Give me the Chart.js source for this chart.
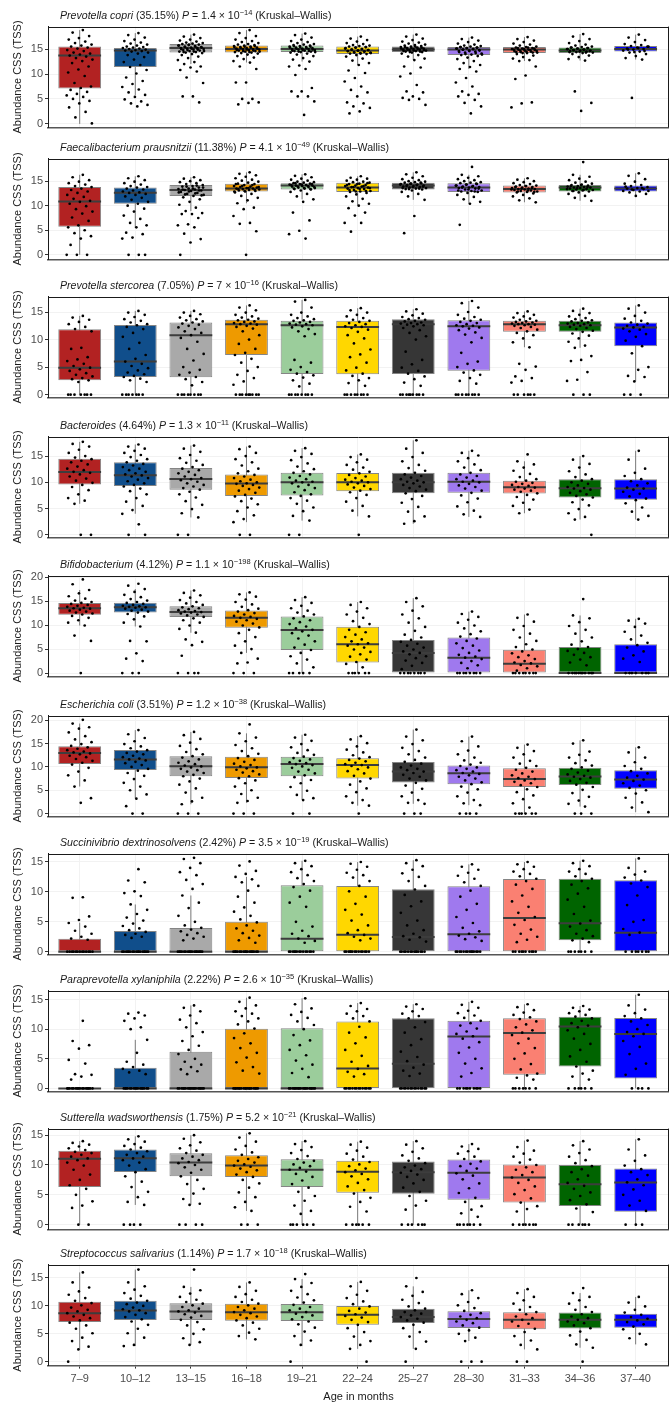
<!DOCTYPE html>
<html>
<head>
<meta charset="utf-8">
<script src="https://cdn.jsdelivr.net/npm/chart.js@4.4.1/dist/chart.umd.min.js"></script>
<style>
  html, body { margin: 0; padding: 0; background: #fff; }
  body { width: 669px; height: 1402px; overflow: hidden; position: relative;
         font-family: 'Liberation Sans', Arial, sans-serif; }
  .panel { position: absolute; left: 0; width: 673px; }
  .ptitle { position: absolute; left: 60px; font-size: 10.6px; line-height: 14px;
            color: #1a1a1a; white-space: nowrap; }
  .ptitle sup { font-size: 7.5px; line-height: 0; vertical-align: 4px; }
</style>
</head>
<body>
<script>
// ---------- categories and labels ----------
const ageGroups = ['7–9', '10–12', '13–15', '16–18', '19–21', '22–24', '25–27', '28–30', '31–33', '34–36', '37–40'];
const taxa = ['Prevotella copri', 'Faecalibacterium prausnitzii', 'Prevotella stercorea', 'Bacteroides',
  'Bifidobacterium', 'Escherichia coli', 'Succinivibrio dextrinosolvens', 'Paraprevotella xylaniphila',
  'Sutterella wadsworthensis', 'Streptococcus salivarius'];
const shares = ['35.15%', '11.38%', '7.05%', '4.64%', '4.12%', '3.51%', '2.42%', '2.22%', '1.75%', '1.14%'];
const pMantissa = ['1.4', '4.1', '7', '1.3', '1.1', '1.2', '3.5', '2.6', '5.2', '1.7'];
const pExponent = ['−14', '−49', '−16', '−11', '−198', '−38', '−19', '−35', '−21', '−18'];
const groupColors = ['#B22222', '#104E8B', '#A9A9A9', '#EE9A00', '#9BCD9B', '#FFD700',
  '#363636', '#9F79EE', '#FA8072', '#006400', '#0000FF'];

// y-axis limits and tick values per taxon
const yLimits = [[-0.7, 19.5], [-0.94, 19.6], [-0.5, 17.8], [-0.5, 18.7], [-0.7, 20.3],
  [-0.6, 21.0], [-0.45, 16.4], [-0.5, 16.5], [-0.8, 16.1], [-0.7, 17.4]];
const yTickValues = [[0, 5, 10, 15], [0, 5, 10, 15], [0, 5, 10, 15], [0, 5, 10, 15], [0, 5, 10, 15, 20],
  [0, 5, 10, 15, 20], [0, 5, 10, 15], [0, 5, 10, 15], [0, 5, 10, 15], [0, 5, 10, 15]];

// ---------- box summaries: [lower whisker, Q1, median, Q3, upper whisker] ----------
const copriBox = [[0,7.1,13.7,15.5,18.8],[5.8,11.4,14.7,15.2,18.2],[12.0,14.3,15.2,16.0,17.9],[12.3,14.3,15.0,15.7,18.8],
  [12.5,14.4,15.0,15.7,18.1],[11.8,14.0,14.7,15.5,17.5],[12.8,14.4,14.9,15.5,17.9],[11.0,13.8,14.9,15.4,17.3],
  [12.6,14.2,14.9,15.4,17.4],[12.7,14.2,14.7,15.3,18.0],[12.9,14.5,15.0,15.6,17.9]];
const faecaliBox = [[0,5.7,10.85,13.8,16.3],[5.5,10.4,12.65,13.7,16.0],[8.9,12.0,13.2,14.2,15.8],[10.5,12.9,13.5,14.5,16.8],
  [11.3,13.3,14.1,14.6,16.4],[10.0,12.8,13.7,14.7,16.0],[11.2,13.3,14.1,14.7,16.8],[10.4,12.8,13.7,14.6,16.3],
  [10.7,12.7,13.4,14.1,15.6],[11.0,12.9,13.7,14.2,16.3],[12.0,12.9,13.5,14.1,16.6]];
const stercoreaBox = [[0,2.6,4.9,11.86,14.3],[0,3.2,6.0,12.64,15.2],[0,3.15,10.8,13.1,15.2],[0,7.2,12.8,13.6,16.2],
  [0,3.75,12.6,13.4,17.2],[0,3.7,12.3,13.4,15.7],[0,3.75,12.8,13.7,15.5],[0,4.35,12.4,13.5,17.0],
  [8.6,11.4,12.8,13.4,15.1],[8.5,11.4,12.6,13.4,15.6],[2.4,8.8,12.2,13.1,16.2]];
const bacteroidesBox = [[5.9,9.56,11.96,14.5,17.7],[4.0,9.3,11.33,13.8,17.2],[3.3,8.6,10.63,12.7,17.0],[2.4,7.4,9.75,11.46,16.8],
  [2.7,7.47,10.0,11.8,16.5],[3.5,8.3,10.0,11.77,15.3],[2.1,7.9,10.0,11.8,18.0],[3.4,8.0,10.1,11.8,16.0],
  [4.1,7.85,9.05,10.3,14.0],[2.9,7.1,8.86,10.57,15.0],[2.9,6.65,8.8,10.6,16.0]];
const bifidoBox = [[9.9,12.15,13.5,14.6,17.3],[9.7,12.6,13.7,14.65,17.5],[8.4,11.7,12.7,13.9,17.2],[4.2,9.45,11.5,13.05,16.8],
  [0,4.8,8.96,11.8,15.8],[0,2.2,6.0,9.65,14.8],[0,0,4.2,6.9,15.6],[0,0,3.2,7.4,12.8],
  [0,0,1.95,4.86,12.2],[0,0,0,5.4,12.0],[0,0,0,6.0,11.3]];
const coliBox = [[5.8,10.64,13.0,14.43,19.3],[3.2,9.36,11.57,13.64,17.9],[2.0,8.0,10.14,12.3,17.5],[2.3,7.64,9.93,12.2,17.2],
  [2.9,8.0,10.64,12.2,16.9],[1.7,7.5,10.43,11.86,16.6],[2.1,6.64,9.0,11.07,18.0],[1.8,6.3,8.64,10.3,16.5],
  [0,5.7,7.43,9.7,14.8],[1.5,6.14,7.93,9.8,15.7],[0.3,5.3,7.3,9.3,14.2]];
const succiniBox = [[0,0,0,2.17,4.85],[0,0,0,3.46,7.9],[0,0,0,3.96,9.4],[0,0,0,5.0,12.5],
  [0,0,2.17,11.1,15.2],[0,0,2.84,11.0,15.0],[0,0,2.45,10.43,15.3],[0,0,2.9,10.93,14.6],
  [0,0,5.63,12.16,15.0],[0,1.9,4.74,12.2,15.2],[0,0,3.18,11.93,15.6]];
const paraBox = [[0,0,0,0,0],[0,0,0,3.48,8.2],[0,0,0,6.18,14.0],[0,0,0,10.06,15.3],
  [0,0,0,10.17,15.2],[0,0,3.37,11.3,14.4],[0,0,4.16,11.85,14.2],[0,0,8.76,11.4,14.6],
  [0,2.3,9.33,11.85,14.2],[0,3.7,10.45,12.08,13.9],[0,1.68,9.2,11.9,15.8]];
const sutterellaBox = [[0,6.29,11.03,12.4,14.0],[3.3,8.83,11.14,12.58,14.8],[3.3,8.1,10.42,11.97,15.0],[2.3,8.0,9.93,11.64,15.3],
  [0,6.29,9.2,10.98,14.0],[0,5.35,8.88,10.7,13.9],[0,5.18,8.77,10.6,14.0],[0,4.19,8.71,10.92,13.5],
  [0,3.7,7.89,10.1,14.1],[0,3.14,6.78,9.98,14.0],[0,2.15,7.06,9.43,14.3]];
const streptoBox = [[2.1,7.12,8.7,10.76,16.0],[2.8,7.47,9.18,10.94,16.5],[3.0,7.47,9.0,10.47,13.4],[4.0,7.35,8.88,10.4,14.2],
  [2.8,7.3,8.88,10.35,14.8],[2.3,6.6,8.4,10.0,14.3],[2.3,6.94,8.0,9.47,13.5],[3.7,6.06,7.65,9.06,12.8],
  [2.2,5.82,7.5,8.88,13.0],[2.5,5.94,7.5,8.82,12.3],[3.1,6.1,7.5,8.6,11.6]];

// ---------- per-sample abundances, one list per age group ----------
const copriPts = [
  [18.8,18.3,17.6,17.2,16.9,16.5,16.2,15.9,15.7,15.5,15.3,15.1,14.8,14.6,14.3,14.1,13.9,13.7,13.5,13.2,12.9,12.6,12.2,11.5,10.9,10.3,9.6,8.2,7.5,7.2,6.8,6.4,6.0,5.7,5.4,5.0,4.6,4.1,3.3,2.4,1.3,0.1],
  [18.2,17.8,17.3,16.9,16.6,16.3,16.1,15.9,15.7,15.5,15.4,15.3,15.2,15.1,15.0,14.9,14.8,14.7,14.6,14.5,14.3,14.1,13.8,13.4,12.9,12.4,11.8,11.4,10.8,10.1,9.3,8.6,8.0,7.4,6.9,6.3,5.8,5.4,4.9,4.5,4.1,3.8,3.5],
  [17.9,17.5,17.2,16.9,16.7,16.5,16.3,16.2,16.1,16.0,15.9,15.8,15.7,15.6,15.5,15.4,15.3,15.2,15.2,15.1,15.0,14.9,14.8,14.7,14.6,14.5,14.4,14.3,14.2,14.0,13.8,13.5,13.2,12.8,12.4,12.0,11.5,11.3,10.8,10.5,9.3,8.2,5.5,5.5,4.3,15.9,15.7,15.5,15.4,15.3,15.1,15.0,14.9,14.8,14.6,14.5,14.4],
  [18.8,18.2,17.6,17.2,16.9,16.6,16.4,16.2,16.0,15.9,15.8,15.7,15.6,15.5,15.4,15.3,15.2,15.1,15.0,15.0,14.9,14.8,14.7,14.6,14.5,14.4,14.3,14.2,14.1,13.9,13.6,13.3,13.0,12.6,12.3,11.5,11.0,8.3,8.3,5.0,5.0,4.3,4.2,3.9,15.6,15.5,15.4,15.3,15.2,15.1,14.9,14.8,14.7,14.6,14.5,14.4],
  [18.1,17.8,17.3,16.9,16.6,16.4,16.2,16.0,15.9,15.8,15.7,15.6,15.5,15.4,15.3,15.2,15.1,15.0,15.0,14.9,14.8,14.7,14.6,14.5,14.4,14.3,14.1,13.9,13.6,13.2,12.9,12.5,11.7,11.5,11.0,9.8,7.2,6.5,6.5,5.5,5.5,4.5,1.8,15.6,15.5,15.4,15.3,15.2,15.1,14.9,14.8,14.7,14.6,14.5,14.4],
  [17.5,17.1,16.8,16.5,16.2,16.0,15.8,15.7,15.6,15.5,15.4,15.3,15.1,15.0,14.9,14.8,14.7,14.6,14.5,14.4,14.3,14.2,14.1,14.0,13.8,13.5,13.1,12.7,12.2,11.8,10.7,10.2,9.2,8.5,7.5,6.8,6.3,5.5,4.3,4.1,3.5,3.2,2.5,2.1,15.4,15.3,15.2,15.0,14.9,14.8,14.7,14.6,14.5,14.3,14.2,14.1],
  [17.9,17.5,17.1,16.8,16.5,16.3,16.1,15.9,15.8,15.7,15.6,15.5,15.4,15.3,15.2,15.1,15.0,14.9,14.9,14.8,14.7,14.6,14.5,14.4,14.3,14.1,13.8,13.5,13.1,12.8,11.5,11.3,10.1,9.5,7.8,6.5,6.3,5.5,5.2,5.0,4.8,3.8,15.5,15.4,15.3,15.2,15.1,15.0,14.9,14.8,14.7,14.6,14.5,14.4],
  [17.3,17.0,16.7,16.4,16.1,15.9,15.7,15.6,15.5,15.4,15.3,15.2,15.1,15.0,14.9,14.8,14.7,14.6,14.5,14.3,14.1,13.9,13.8,13.6,13.3,13.0,12.6,12.2,11.8,11.4,11.0,10.5,9.2,8.3,7.5,6.5,6.0,5.8,5.5,4.8,4.2,3.5,2.1,15.4,15.3,15.2,15.1,15.0,14.9,14.7,14.6,14.4,14.2,14.0,13.9],
  [17.4,17.0,16.7,16.4,16.1,15.9,15.7,15.5,15.4,15.3,15.2,15.1,15.0,14.9,14.9,14.8,14.7,14.6,14.5,14.4,14.3,14.2,14.0,13.7,13.4,13.1,12.8,12.6,11.5,9.7,9.0,4.3,4.1,3.3,15.3,15.2,15.1,15.0,14.9,14.8,14.7,14.6,14.5,14.4,14.3,14.2],
  [18.0,17.5,17.0,16.6,16.2,15.9,15.7,15.5,15.4,15.3,15.2,15.1,15.0,14.9,14.8,14.7,14.7,14.6,14.5,14.4,14.3,14.2,14.0,13.7,13.4,13.0,12.7,6.5,4.2,2.6,15.3,15.2,15.1,15.0,14.9,14.8,14.6,14.5,14.4,14.3],
  [17.9,17.3,16.8,16.4,16.0,15.8,15.6,15.5,15.3,15.1,15.0,14.9,14.7,14.5,14.3,14.0,13.6,13.2,12.9,5.2,15.5,15.2,14.9,14.6,14.4]];
const faecaliPts = [
  [16.3,15.8,15.2,14.9,14.6,14.3,14.0,13.8,13.5,13.2,12.9,12.6,12.2,11.8,11.4,11.0,10.8,10.4,9.9,9.3,8.8,8.4,7.6,6.9,6.0,5.6,5.0,4.4,3.8,3.3,2.0,0,0,0],
  [16.0,15.6,15.2,14.9,14.6,14.3,14.0,13.8,13.7,13.5,13.3,13.1,12.9,12.7,12.6,12.4,12.2,11.9,11.6,11.2,10.8,10.4,10.0,9.4,8.8,8.0,7.3,6.5,6.0,5.6,4.5,4.2,3.5,3.3,0,0,0],
  [15.8,15.5,15.2,15.0,14.8,14.6,14.4,14.2,14.0,13.9,13.7,13.5,13.4,13.3,13.2,13.1,13.0,12.8,12.6,12.4,12.2,12.0,11.7,11.3,10.8,10.2,9.6,8.9,8.5,8.3,8.3,7.5,6.2,6.0,5.6,4.3,3.2,2.5,0,14.1,13.9,13.7,13.5,13.3,13.1,12.9,12.7,12.5,12.3,12.1],
  [16.8,16.5,16.2,15.9,15.6,15.3,15.1,14.9,14.7,14.5,14.4,14.2,14.0,13.9,13.8,13.7,13.6,13.5,13.5,13.4,13.3,13.2,13.1,13.0,12.9,12.7,12.4,12.0,11.6,11.1,10.5,9.6,9.3,7.9,6.5,6.3,4.8,0,14.4,14.2,14.0,13.8,13.6,13.4,13.2,13.0,12.9],
  [16.4,16.1,15.8,15.5,15.3,15.1,14.9,14.8,14.7,14.6,14.5,14.4,14.3,14.2,14.1,14.1,14.0,13.9,13.8,13.7,13.6,13.5,13.4,13.3,13.1,12.8,12.4,11.9,11.3,10.8,8.6,7.0,4.9,4.2,3.3,14.6,14.4,14.3,14.2,14.0,13.9,13.8,13.6,13.5,13.4],
  [16.0,15.7,15.5,15.3,15.1,14.9,14.8,14.7,14.5,14.4,14.2,14.1,14.0,13.9,13.8,13.7,13.6,13.5,13.4,13.2,13.0,12.9,12.8,12.6,12.3,11.9,11.4,10.9,10.4,10.0,9.5,8.6,8.0,6.5,6.5,4.7,14.6,14.4,14.2,14.0,13.8,13.6,13.4,13.2,13.0,12.9],
  [16.8,16.4,16.0,15.7,15.4,15.2,15.0,14.9,14.8,14.7,14.6,14.5,14.4,14.3,14.2,14.1,14.0,13.9,13.8,13.7,13.6,13.5,13.4,13.3,13.1,12.8,12.4,11.9,11.2,7.9,4.4,14.7,14.5,14.3,14.2,14.0,13.9,13.8,13.6,13.5,13.4],
  [17.9,16.3,16.0,15.7,15.4,15.2,15.0,14.8,14.7,14.6,14.4,14.3,14.1,14.0,13.9,13.8,13.7,13.6,13.5,13.3,13.1,13.0,12.9,12.8,12.6,12.2,11.8,11.3,10.8,10.4,6.1,14.5,14.3,14.1,13.9,13.7,13.5,13.3,13.1,12.9],
  [15.6,15.3,15.0,14.8,14.6,14.4,14.2,14.1,14.0,13.9,13.8,13.7,13.6,13.5,13.4,13.4,13.3,13.2,13.1,13.0,12.9,12.8,12.7,12.5,12.2,11.9,11.5,11.1,10.7,14.0,13.8,13.6,13.5,13.3,13.1,12.9,12.8],
  [18.9,16.3,15.9,15.5,15.2,14.9,14.7,14.5,14.3,14.2,14.1,14.0,13.9,13.8,13.7,13.7,13.6,13.5,13.4,13.3,13.2,13.1,13.0,12.9,12.7,12.4,12.0,11.6,11.0,14.2,14.0,13.8,13.6,13.4,13.2,13.0],
  [16.6,16.1,15.4,14.9,14.5,14.2,14.0,13.8,13.6,13.5,13.4,13.2,13.0,12.9,12.7,12.4,12.0,13.9,13.6,13.3,13.0]];
const stercoreaPts = [
  [14.3,14.0,13.6,13.2,12.8,12.3,11.9,11.5,8.5,8.3,6.8,6.4,6.1,5.6,5.2,4.9,4.6,4.3,3.9,3.6,3.3,3.0,2.8,2.6,2.3,0,0,0,0,0,0,0],
  [15.2,14.9,14.5,14.1,13.7,13.4,13.1,12.8,12.6,12.3,11.9,11.2,10.5,9.4,8.3,7.2,6.5,6.0,5.6,5.2,4.8,4.4,4.0,3.7,3.4,3.2,2.9,2.6,2.3,0,0,0,0,0,0,0],
  [15.2,14.9,14.6,14.3,14.0,13.7,13.5,13.3,13.1,12.9,12.7,12.5,12.2,11.9,11.5,11.2,10.8,10.3,9.6,8.3,7.4,6.2,5.0,4.5,4.0,3.6,3.2,2.8,2.3,1.7,0,0,0,0,0,0,0,0],
  [16.2,15.8,15.3,14.9,14.5,14.2,14.0,13.8,13.6,13.5,13.3,13.2,13.0,12.9,12.8,12.7,12.5,12.3,12.0,11.5,10.8,10.0,9.2,8.3,7.6,7.2,6.5,5.8,5.0,4.3,3.6,3.0,2.4,1.8,0,0,0,0,0,0,0,0,0],
  [17.2,16.9,15.8,14.9,14.5,14.2,13.9,13.7,13.5,13.4,13.2,13.1,12.9,12.8,12.7,12.6,12.4,12.2,11.9,11.5,11.0,10.6,6.3,5.8,5.0,4.5,4.1,3.8,3.5,3.1,2.6,2.0,1.5,0,0,0,0,0,0,0,0],
  [15.7,15.3,14.9,14.5,14.2,13.9,13.6,13.4,13.2,13.0,12.8,12.6,12.4,12.3,12.1,11.8,11.4,10.8,10.2,9.3,8.2,7.3,6.8,5.8,4.9,4.4,3.8,3.4,3.0,2.6,2.1,1.6,0,0,0,0,0,0,0,0],
  [15.5,15.1,14.7,14.4,14.1,13.9,13.7,13.6,13.4,13.3,13.1,13.0,12.9,12.8,12.7,12.6,12.4,12.1,11.7,11.2,10.6,10.0,7.8,6.3,5.5,4.9,4.3,3.8,3.3,2.8,2.2,1.6,0,0,0,0,0,0,0,0,0],
  [17.0,16.6,15.8,15.0,14.5,14.1,13.8,13.6,13.4,13.2,13.0,12.8,12.6,12.5,12.4,12.2,12.0,11.7,11.3,10.9,10.3,9.5,7.6,6.0,5.6,5.0,4.4,4.0,3.6,3.0,2.5,2.0,0,0,0,0,0,0,0,0],
  [15.1,14.8,14.5,14.2,14.0,13.8,13.6,13.4,13.3,13.2,13.1,13.0,12.9,12.8,12.8,12.7,12.6,12.5,12.3,12.1,11.8,11.5,11.2,10.8,10.2,9.5,8.6,5.6,5.1,4.5,3.3,3.0,2.5,2.2,0,0,0,0,0,0],
  [15.6,15.2,14.8,14.5,14.2,13.9,13.7,13.5,13.4,13.3,13.1,13.0,12.9,12.8,12.7,12.6,12.5,12.3,12.1,11.9,11.6,11.4,11.1,10.7,10.2,9.6,8.9,8.5,7.0,6.3,6.1,4.1,2.7,2.5,0,0,0],
  [16.2,15.6,14.9,14.3,13.8,13.4,13.1,12.9,12.7,12.5,12.3,12.2,12.0,11.8,11.5,11.0,10.5,9.8,8.8,7.5,5.0,4.5,3.4,3.2,2.4,0,0,0]];
const bacteroidesPts = [
  [17.7,17.3,16.8,16.2,15.6,15.0,14.7,14.4,14.1,13.8,13.4,13.0,12.6,12.3,12.0,11.8,11.5,11.1,10.7,10.3,9.9,9.5,9.1,8.5,7.7,7.0,6.5,5.9,0,0],
  [17.2,16.8,16.4,16.0,15.6,15.2,14.8,14.4,14.1,13.8,13.5,13.2,12.9,12.6,12.3,12.0,11.7,11.5,11.3,11.1,10.8,10.5,10.2,9.8,9.5,9.2,8.8,8.3,7.7,7.0,6.3,5.5,4.7,4.0,2.0,0,0],
  [17.0,16.4,15.8,15.2,14.6,14.1,13.7,13.3,12.9,12.6,12.3,12.0,11.7,11.4,11.1,10.8,10.6,10.4,10.1,9.8,9.5,9.2,8.9,8.6,8.2,7.7,7.1,6.4,5.7,4.9,4.1,3.3,0,0],
  [16.8,16.3,15.6,15.0,14.4,13.8,13.2,12.6,12.1,11.7,11.4,11.1,10.8,10.5,10.2,10.0,9.8,9.7,9.5,9.3,9.0,8.7,8.4,8.0,7.6,7.3,6.9,6.4,5.8,5.2,4.5,3.7,3.0,2.4,0,0],
  [16.5,16.0,15.4,14.8,14.2,13.6,13.0,12.5,12.1,11.8,11.5,11.2,10.9,10.6,10.3,10.1,10.0,9.8,9.5,9.2,8.9,8.5,8.1,7.7,7.4,7.0,6.5,5.9,5.2,4.5,3.6,2.7,0,0],
  [15.3,14.8,14.3,13.8,13.3,12.8,12.4,12.0,11.7,11.4,11.1,10.8,10.5,10.3,10.1,10.0,9.8,9.6,9.3,9.0,8.7,8.4,8.1,7.6,7.0,6.3,5.5,4.6,3.5,0],
  [18.0,16.4,15.6,14.8,14.0,13.3,12.7,12.2,11.8,11.5,11.2,10.9,10.6,10.3,10.1,10.0,9.8,9.5,9.2,8.9,8.6,8.3,7.9,7.4,6.8,6.1,5.3,4.4,3.5,2.6,2.1],
  [16.0,15.6,15.1,14.6,14.0,13.4,12.8,12.3,11.8,11.5,11.2,10.9,10.6,10.3,10.1,10.0,9.7,9.4,9.1,8.8,8.4,8.0,7.5,6.9,6.2,5.4,4.6,3.9,3.4],
  [15.3,14.0,13.4,12.8,12.2,11.6,11.0,10.6,10.3,10.1,9.9,9.7,9.5,9.3,9.1,9.0,8.8,8.6,8.4,8.2,7.9,7.6,7.2,6.7,6.1,5.5,4.8,4.1],
  [15.0,14.3,13.5,12.8,12.1,11.5,11.0,10.6,10.3,10.0,9.7,9.4,9.1,8.9,8.8,8.6,8.3,8.0,7.7,7.4,7.1,6.7,6.2,5.6,4.9,4.1,3.4,2.9,0],
  [16.0,14.3,12.6,11.8,11.2,10.6,10.2,9.8,9.4,9.0,8.8,8.6,8.2,7.8,7.3,6.9,6.6,6.0,5.2,4.4,3.6,2.9]];
const bifidoPts = [
  [19.5,18.5,17.3,16.6,16.0,15.5,15.1,14.8,14.6,14.4,14.2,14.0,13.8,13.6,13.5,13.4,13.2,13.0,12.8,12.6,12.4,12.2,11.9,11.5,11.0,10.5,9.9,7.8,6.7,0],
  [18.6,18.2,17.5,16.9,16.3,15.8,15.4,15.1,14.8,14.6,14.4,14.2,14.0,13.9,13.8,13.7,13.6,13.4,13.2,13.0,12.8,12.6,12.3,11.8,11.2,10.5,9.7,6.7,6.6,4.1,3.0,2.5,0,0,0],
  [17.2,16.7,16.2,15.7,15.2,14.8,14.5,14.2,13.9,13.7,13.5,13.3,13.1,12.9,12.8,12.7,12.6,12.4,12.2,12.0,11.7,11.4,11.0,10.5,9.9,9.2,8.4,7.0,6.5,5.8,3.6,0,0,0,0],
  [16.8,16.4,15.9,15.3,14.8,14.3,13.8,13.4,13.1,12.8,12.5,12.2,11.9,11.7,11.5,11.3,11.0,10.7,10.3,9.9,9.5,9.0,8.3,7.5,6.6,5.7,5.0,4.2,3.0,2.2,2.0,0,0,0],
  [15.8,15.2,14.6,14.0,13.5,13.0,12.6,12.2,11.8,11.4,11.0,10.6,10.2,9.7,9.3,9.0,8.7,8.3,7.8,7.2,6.6,5.9,5.3,4.8,4.2,3.5,2.8,2.0,1.2,0,0,0,0,0],
  [14.8,14.2,13.5,12.8,12.2,11.5,10.8,10.2,9.6,9.0,8.5,8.0,7.5,7.0,6.6,6.2,6.0,5.7,5.3,4.9,4.4,3.9,3.4,2.8,2.3,1.9,1.2,0,0,0,0,0,0],
  [15.6,14.8,13.9,13.0,12.2,11.4,10.5,9.6,8.8,8.0,7.4,6.9,6.5,6.1,5.7,5.3,4.9,4.5,4.2,3.9,3.5,3.1,2.6,2.1,1.5,0.8,0,0,0,0,0,0,0,0],
  [12.8,12.3,11.7,11.1,10.5,9.9,9.3,8.7,8.1,7.6,7.2,6.7,6.2,5.7,5.2,4.7,4.2,3.8,3.4,3.2,2.9,2.5,2.1,1.6,1.0,0,0,0,0,0,0,0,0],
  [12.2,11.5,10.7,9.8,9.0,8.2,7.4,6.7,6.0,5.4,4.9,4.5,4.1,3.7,3.3,2.9,2.5,2.2,2.0,1.7,1.4,1.0,0.5,0,0,0,0,0,0,0,0],
  [15.4,12.0,11.4,10.6,9.8,9.0,8.2,7.4,6.6,5.9,5.4,5.0,4.6,4.2,3.8,3.3,2.8,2.2,1.6,0,0,0,0,0,0,0,0,0,0,0],
  [11.3,10.9,10.3,9.6,8.6,7.8,7.0,6.3,5.8,5.3,4.5,3.7,3.0,2.3,0,0,0,0,0,0,0]];
const coliPts = [
  [20.1,19.3,18.5,18.2,17.4,16.6,15.9,15.3,14.9,14.5,14.2,13.9,13.6,13.3,13.1,12.9,12.7,12.4,12.1,11.7,11.3,10.9,10.5,9.8,9.0,8.2,7.1,5.8,3.3,2.3],
  [17.9,17.0,16.2,15.5,14.9,14.4,14.0,13.6,13.3,13.0,12.7,12.4,12.1,11.8,11.6,11.4,11.1,10.8,10.4,10.0,9.6,9.2,8.7,8.1,7.4,6.6,5.8,5.0,4.1,3.2,1.6,0,0],
  [17.5,16.8,16.0,15.2,14.5,13.8,13.2,12.7,12.3,12.0,11.6,11.2,10.9,10.6,10.3,10.1,9.9,9.6,9.3,9.0,8.7,8.3,8.0,7.5,6.9,6.2,5.4,4.5,3.4,2.6,2.0,0,0,0],
  [19.1,17.2,16.3,15.5,14.7,14.0,13.4,12.8,12.3,11.9,11.5,11.1,10.7,10.4,10.1,9.9,9.7,9.4,9.1,8.8,8.4,8.0,7.6,7.1,6.5,5.8,5.0,4.2,3.4,2.7,2.3,0,0,0],
  [16.9,16.3,15.6,14.9,14.2,13.6,13.0,12.6,12.2,11.9,11.6,11.3,11.0,10.8,10.6,10.4,10.1,9.8,9.4,9.0,8.6,8.2,7.8,7.2,6.5,5.7,4.9,4.0,3.3,2.9,0,0],
  [16.6,15.9,15.1,14.4,13.7,13.1,12.5,12.1,11.8,11.5,11.2,10.9,10.6,10.4,10.2,9.9,9.5,9.1,8.6,8.1,7.5,6.9,6.2,5.4,4.6,3.7,2.9,2.3,1.7,0],
  [18.0,16.5,15.7,14.9,14.1,13.4,12.7,12.0,11.5,11.1,10.7,10.3,9.9,9.6,9.3,9.0,8.7,8.3,7.9,7.5,7.1,6.6,6.0,5.3,4.5,3.7,2.9,2.3,2.1,0,0,0],
  [16.5,15.5,14.4,13.5,12.7,12.0,11.4,10.9,10.5,10.2,9.9,9.6,9.3,9.0,8.7,8.5,8.2,7.9,7.5,7.1,6.7,6.3,5.8,5.2,4.5,3.7,2.9,2.2,1.8,0,0,0,0],
  [14.8,14.1,13.4,12.7,12.0,11.3,10.7,10.2,9.8,9.4,9.0,8.6,8.2,7.9,7.6,7.4,7.1,6.8,6.5,6.1,5.7,5.2,4.6,3.9,3.1,2.2,1.3,0,0,0,0,0,0],
  [15.7,15.0,13.3,12.6,12.0,11.4,10.8,10.3,9.9,9.6,9.2,8.8,8.4,8.1,7.9,7.7,7.4,7.0,6.6,6.2,5.7,5.1,4.4,3.6,2.8,2.1,1.5,0,0,0],
  [14.2,13.1,12.0,11.0,10.2,9.6,9.1,8.6,8.1,7.7,7.3,7.0,6.5,6.0,5.5,5.0,4.3,3.4,2.4,1.3,0.3]];
const succiniPts = [
  [9.1,9.0,5.9,5.3,4.8,4.2,3.5,3.0,2.5,2.2,2.0,0,0,0,0,0,0,0,0,0,0,0,0,0],
  [13.8,11.9,11.6,10.1,9.8,9.3,7.9,7.0,6.3,5.7,5.2,4.7,4.3,3.9,3.6,3.3,3.0,2.8,2.5,2.3,0,0,0,0,0,0,0,0,0,0,0,0,0,0,0,0,0],
  [15.7,15.5,14.8,14.0,13.3,12.8,12.0,11.3,10.5,9.4,8.2,7.3,6.0,5.0,4.4,4.0,3.7,3.4,3.1,2.8,2.5,2.2,1.9,0,0,0,0,0,0,0,0,0,0,0,0,0,0,0,0,0],
  [15.1,14.4,13.5,13.0,12.5,12.1,11.6,11.0,10.2,9.2,8.2,7.4,6.7,6.0,5.4,4.9,4.4,3.9,3.5,3.1,2.7,2.3,1.9,1.5,0,0,0,0,0,0,0,0,0,0,0,0,0,0,0,0],
  [15.2,14.8,14.3,13.8,13.3,12.8,12.3,11.8,11.3,10.8,10.2,9.2,8.2,7.5,5.0,4.2,3.5,3.0,2.6,2.2,1.8,1.5,0,0,0,0,0,0,0,0,0,0,0,0,0,0],
  [15.0,14.7,14.2,13.7,13.2,12.8,12.4,11.8,11.0,10.1,9.2,8.0,7.0,6.2,5.2,4.4,3.6,3.1,2.8,2.5,2.2,1.9,0,0,0,0,0,0,0,0,0,0,0,0,0,0],
  [15.3,14.8,14.3,13.7,13.1,12.5,11.8,11.0,10.4,9.5,8.4,7.6,6.5,5.2,4.4,3.6,3.0,2.6,2.4,2.0,1.7,0,0,0,0,0,0,0,0,0,0,0,0,0,0],
  [14.6,14.2,13.7,13.2,12.7,12.2,11.6,11.0,10.2,9.2,8.0,7.0,5.8,4.8,4.0,3.4,3.0,2.7,2.4,2.1,1.8,0,0,0,0,0,0,0,0,0,0,0,0,0,0],
  [15.0,14.6,14.2,13.8,13.4,13.0,12.6,12.2,11.8,11.2,10.5,9.4,8.4,7.5,6.5,5.8,5.3,4.5,3.7,3.0,2.5,2.0,1.6,0,0,0,0,0,0,0,0,0,0],
  [15.2,14.8,14.3,13.8,13.4,13.0,12.6,12.2,11.8,11.2,10.6,9.7,8.7,7.5,6.3,5.2,4.7,4.2,3.6,3.0,2.6,2.2,1.9,1.6,0,0,0,0,0,0,0],
  [15.6,14.0,13.4,12.9,12.4,11.9,11.4,10.8,9.4,7.8,5.3,5.0,3.8,3.2,2.8,0,0,0,0,0,0,0]];
const paraPts = [
  [11.4,8.0,7.3,6.7,4.8,4.2,2.4,2.3,2.0,1.5,0,0,0,0,0,0,0,0,0,0,0,0,0,0,0,0],
  [12.8,12.6,12.3,11.8,11.4,10.3,10.0,8.2,6.0,4.5,4.0,3.6,3.3,3.0,2.7,2.4,0,0,0,0,0,0,0,0,0,0,0,0,0,0,0,0],
  [14.0,13.6,13.0,12.3,11.6,11.0,10.3,9.5,8.8,8.0,7.2,6.5,5.8,5.0,4.5,4.0,3.6,3.2,2.9,2.4,0,0,0,0,0,0,0,0,0,0,0,0,0,0,0,0,0,0],
  [15.3,14.6,14.0,13.5,13.0,12.6,12.2,11.8,11.3,10.8,10.1,9.3,8.5,7.6,6.8,6.0,5.2,4.4,3.6,3.0,2.5,0,0,0,0,0,0,0,0,0,0,0,0,0,0,0,0,0,0],
  [15.2,14.2,13.5,12.9,12.4,11.9,11.3,10.7,10.0,9.0,8.1,7.3,6.5,5.6,4.7,4.0,3.3,2.6,1.9,0,0,0,0,0,0,0,0,0,0,0,0,0,0,0,0,0,0],
  [14.4,13.9,13.4,13.0,12.6,12.2,11.8,11.3,10.4,9.4,8.6,7.6,6.5,5.5,4.5,3.8,3.3,2.8,2.4,2.0,0,0,0,0,0,0,0,0,0,0,0,0,0,0],
  [14.2,13.8,13.4,13.0,12.6,12.2,11.8,11.2,10.3,9.4,8.3,7.3,6.2,5.3,4.6,4.0,3.5,3.0,2.5,2.1,0,0,0,0,0,0,0,0,0,0,0,0,0,0],
  [14.6,14.1,13.6,13.1,12.7,12.3,11.9,11.4,11.0,10.6,10.1,9.6,9.2,8.8,8.4,7.8,6.9,6.0,5.0,4.2,3.4,2.6,2.0,0,0,0,0,0,0,0,0,0,0],
  [14.2,13.7,13.2,12.8,12.4,12.0,11.7,11.3,10.8,10.3,9.8,9.4,9.0,8.4,7.6,6.8,5.9,5.0,4.1,3.2,2.5,2.2,1.8,1.5,0,0,0,0,0,0,0],
  [13.9,13.6,13.3,13.0,12.7,12.4,12.1,11.8,11.4,11.0,10.6,10.3,9.8,9.2,8.4,7.5,6.5,5.4,4.5,3.7,3.0,2.5,2.0,1.5,0,0,0,0,0,0],
  [15.8,14.0,13.3,12.7,12.2,11.8,11.3,10.7,10.0,9.5,9.2,8.8,8.0,7.0,5.8,4.2,3.3,2.3,0,0,0,0]];
const sutterellaPts = [
  [14.0,13.7,13.4,13.1,12.8,12.5,12.2,12.0,11.7,11.4,11.1,10.8,10.4,9.9,9.2,8.4,7.5,6.6,6.0,5.0,3.9,3.2,2.8,0,0],
  [14.8,14.3,13.9,13.5,13.2,12.9,12.6,12.3,12.0,11.7,11.4,11.1,10.8,10.4,9.9,9.3,8.8,8.1,7.2,6.3,5.5,4.6,3.8,3.3,0,0,0,0],
  [15.0,14.4,13.8,13.3,12.8,12.4,12.0,11.7,11.4,11.1,10.8,10.5,10.3,10.0,9.6,9.2,8.7,8.1,7.5,6.8,6.0,5.2,4.3,3.5,3.3,0,0,0,0],
  [15.3,14.6,13.9,13.2,12.6,12.1,11.7,11.3,11.0,10.7,10.4,10.1,9.9,9.7,9.4,9.1,8.8,8.4,8.0,7.5,6.9,6.2,5.4,4.6,3.8,2.9,2.3,0,0,0],
  [14.0,13.5,13.0,12.5,12.0,11.5,11.0,10.7,10.4,10.1,9.8,9.5,9.2,8.9,8.5,8.0,7.4,6.8,6.2,5.5,4.8,4.0,3.2,2.3,1.8,0,0,0,0,0,0],
  [13.9,13.4,12.9,12.4,11.9,11.4,10.9,10.5,10.1,9.8,9.4,9.1,8.8,8.5,8.1,7.6,7.0,6.4,5.8,5.2,4.5,3.8,3.0,2.2,0,0,0,0,0,0],
  [14.0,13.4,12.8,12.2,11.6,11.1,10.7,10.3,9.9,9.6,9.3,9.0,8.7,8.4,8.0,7.5,6.9,6.2,5.5,4.8,4.0,3.2,2.5,0,0,0,0,0,0],
  [13.5,13.1,12.7,12.3,11.9,11.4,11.0,10.6,10.2,9.8,9.4,9.0,8.6,8.2,7.6,6.9,6.1,5.3,4.5,3.8,3.1,2.5,1.9,1.3,0,0,0,0,0,0,0],
  [14.1,13.0,12.4,11.9,11.4,10.9,10.4,10.0,9.6,9.2,8.8,8.3,7.9,7.5,7.0,6.4,5.8,5.1,4.4,3.7,3.1,2.6,2.2,0,0,0,0,0,0,0],
  [14.0,13.3,12.6,12.0,11.4,10.8,10.3,9.8,9.3,8.8,8.2,7.6,7.0,6.5,6.0,5.4,4.8,4.1,3.4,2.7,2.1,0,0,0,0,0,0],
  [14.3,12.6,11.6,10.7,9.9,9.3,8.8,8.3,7.6,7.1,6.6,5.9,5.0,4.0,3.2,2.3,0,0,0]];
const streptoPts = [
  [16.0,14.2,13.3,12.6,12.0,11.4,10.9,10.5,10.1,9.7,9.3,9.0,8.7,8.4,8.1,7.8,7.4,7.0,6.5,5.9,5.1,4.3,3.7,2.7,2.2,0],
  [16.5,14.2,13.5,12.9,12.3,11.8,11.3,10.9,10.6,10.3,10.0,9.7,9.4,9.2,9.0,8.7,8.4,8.0,7.6,7.2,6.6,5.9,5.1,4.3,3.0,2.8],
  [16.5,13.4,12.8,12.2,11.6,11.1,10.7,10.4,10.1,9.8,9.5,9.2,9.0,8.8,8.5,8.2,7.9,7.5,7.1,6.5,5.8,5.0,4.2,3.5,3.0],
  [14.2,13.4,12.7,12.1,11.6,11.1,10.7,10.4,10.1,9.8,9.5,9.2,8.9,8.7,8.4,8.1,7.8,7.4,7.0,6.5,5.9,5.2,4.6,4.0],
  [15.7,14.8,14.1,13.4,12.7,12.1,11.5,11.0,10.6,10.2,9.8,9.5,9.2,8.9,8.6,8.3,8.0,7.6,7.2,6.7,6.1,5.4,4.6,3.8,3.0,0],
  [14.3,13.5,12.7,12.0,11.4,10.8,10.3,9.9,9.5,9.1,8.8,8.5,8.2,7.9,7.5,7.1,6.6,6.0,5.3,4.5,3.7,3.0,2.3,0],
  [15.0,13.5,12.5,11.8,11.1,10.5,9.9,9.5,9.2,8.9,8.6,8.3,8.0,7.7,7.4,7.0,6.6,6.0,5.3,4.5,3.6,2.3,0],
  [12.8,12.1,11.4,10.7,10.1,9.6,9.1,8.7,8.4,8.1,7.8,7.5,7.2,6.9,6.5,6.1,5.6,5.0,4.3,3.7,0,0,0],
  [13.0,12.3,11.6,11.0,10.4,9.8,9.3,8.9,8.5,8.1,7.8,7.5,7.2,6.8,6.4,5.9,5.3,4.6,3.8,3.0,2.2,0,0],
  [13.2,12.3,11.6,11.0,10.4,9.8,9.3,8.9,8.5,8.1,7.8,7.5,7.2,6.9,6.5,6.0,5.4,4.7,3.9,3.1,2.5,0],
  [11.6,10.6,9.9,9.3,8.8,8.4,8.0,7.7,7.4,7.1,6.7,6.3,5.8,5.0,4.2,3.1]];

const panelBoxes = [copriBox, faecaliBox, stercoreaBox, bacteroidesBox, bifidoBox, coliBox, succiniBox, paraBox, sutterellaBox, streptoBox];
const panelPoints = [copriPts, faecaliPts, stercoreaPts, bacteroidesPts, bifidoPts, coliPts, succiniPts, paraPts, sutterellaPts, streptoPts];

// ---------- layout ----------
const PLOT_TOPS = [27, 159, 297, 437, 576, 716, 854, 991, 1129, 1265];
const PLOT_H = 101;
const CANVAS_W = 673;
const AXIS_W = 48;
const BOX_FRAC = 0.77;   // box width as a share of one category step
const JITTER = 0.24;     // half-width of the horizontal point spread, in category steps

Chart.defaults.font.family = "'Liberation Sans', Arial, sans-serif";
Chart.defaults.color = '#4d4d4d';

// evenly spread horizontal offsets for the jittered samples
function spread(k) {
  return ((((k + 1) * 0.6180339887) % 1) - 0.5) * 2 * JITTER;
}

// top and right edges of the panel frame
const panelFrame = {
  id: 'panelFrame',
  afterDraw(chart) {
    const a = chart.chartArea, ctx = chart.ctx;
    ctx.save();
    ctx.strokeStyle = '#1a1a1a';
    ctx.lineWidth = 1;
    ctx.beginPath();
    const t = Math.round(a.top) + 0.5;
    ctx.moveTo(a.left, t); ctx.lineTo(a.right, t);
    ctx.moveTo(Math.round(a.right) - 0.5, a.top); ctx.lineTo(Math.round(a.right) - 0.5, a.bottom);
    ctx.stroke();
    ctx.restore();
  }
};

function buildPanel(i) {
  const last = i === taxa.length - 1;
  const box = panelBoxes[i], pts = panelPoints[i];

  const whiskers = [], boxes = [], medians = [], samples = [];
  box.forEach((s, g) => {
    const x = g + 1;
    whiskers.push({ x, y: s[0] }, { x, y: s[4] }, { x, y: null });
    boxes.push({ x, y: [s[1], s[3]] });
    medians.push({ x: x - BOX_FRAC / 2, y: s[2] }, { x: x + BOX_FRAC / 2, y: s[2] }, { x, y: null });
    pts[g].forEach((v, k) => samples.push({ x: x + spread(k), y: v }));
  });

  const wrap = document.createElement('div');
  wrap.className = 'panel';
  document.body.appendChild(wrap);
  const canvas = document.createElement('canvas');
  const h0 = PLOT_H + (last ? 50 : 16);
  canvas.width = CANVAS_W; canvas.height = h0;
  canvas.style.width = CANVAS_W + 'px'; canvas.style.height = h0 + 'px';
  wrap.appendChild(canvas);

  const chart = new Chart(canvas, {
    type: 'bar',
    data: {
      datasets: [
        { type: 'scatter', data: whiskers, showLine: true, spanGaps: false, borderColor: '#7a7a7a',
          borderWidth: 1, pointRadius: 0, order: 4 },
        { type: 'bar', data: boxes, backgroundColor: groupColors, borderColor: '#858585', borderWidth: 1,
          borderSkipped: false, grouped: false, barPercentage: BOX_FRAC, categoryPercentage: 1, order: 3 },
        { type: 'scatter', data: medians, showLine: true, spanGaps: false, borderColor: '#3d3d3d',
          borderWidth: 2, pointRadius: 0, order: 2 },
        { type: 'scatter', data: samples, pointRadius: 1.35, pointBorderWidth: 0,
          pointBackgroundColor: '#000', order: 1 }
      ]
    },
    options: {
      responsive: false,
      maintainAspectRatio: false,
      animation: false,
      devicePixelRatio: 1,
      events: [],
      layout: { padding: 0 },
      plugins: { legend: { display: false }, tooltip: { enabled: false } },
      scales: {
        x: {
          type: 'linear', min: 0.43, max: 11.6, offset: false,
          afterBuildTicks: s => { s.ticks = ageGroups.map((_, g) => ({ value: g + 1 })); },
          grid: { color: '#f2f2f2', offset: false, drawTicks: last, tickLength: 3, tickColor: '#333' },
          border: { display: true, color: '#555', width: 1.5 },
          ticks: { display: last, autoSkip: false, maxRotation: 0, padding: 4, color: '#4d4d4d',
                   font: { size: 11 }, callback: v => ageGroups[Math.round(v) - 1] },
          title: { display: last, text: 'Age in months', color: '#1a1a1a', font: { size: 11 },
                   padding: { top: 1, bottom: 0 } }
        },
        y: {
          type: 'linear', min: yLimits[i][0], max: yLimits[i][1],
          afterBuildTicks: s => { s.ticks = yTickValues[i].map(v => ({ value: v })); },
          afterFit: s => { s.width = AXIS_W; },
          grid: { color: '#f2f2f2', tickLength: 3, tickColor: '#333' },
          border: { display: true, color: '#1a1a1a', width: 1 },
          ticks: { padding: 2, color: '#4d4d4d', font: { size: 11 } },
          title: { display: true, text: 'Abundance CSS (TSS)', color: '#1a1a1a', font: { size: 11 },
                   padding: { top: 11, bottom: 0 } }
        }
      }
    },
    plugins: [panelFrame]
  });

  // settle the plot area to the panel height, then place the panel
  const a = chart.chartArea;
  const fix = PLOT_H - (a.bottom - a.top);
  if (Math.abs(fix) > 0.01) {
    const h = Math.round(h0 + fix);
    canvas.style.height = h + 'px';
    chart.resize(CANVAS_W, h);
  }
  wrap.style.top = (PLOT_TOPS[i] - chart.chartArea.top) + 'px';

  const title = document.createElement('div');
  title.className = 'ptitle';
  title.style.top = (PLOT_TOPS[i] - 19) + 'px';
  title.innerHTML = '<i>' + taxa[i] + '</i> (' + shares[i] + ') <i>P</i> = ' + pMantissa[i] +
    ' × 10<sup>' + pExponent[i] + '</sup> (Kruskal–Wallis)';
  document.body.appendChild(title);
}

taxa.forEach((_, i) => buildPanel(i));
</script>
</body>
</html>
